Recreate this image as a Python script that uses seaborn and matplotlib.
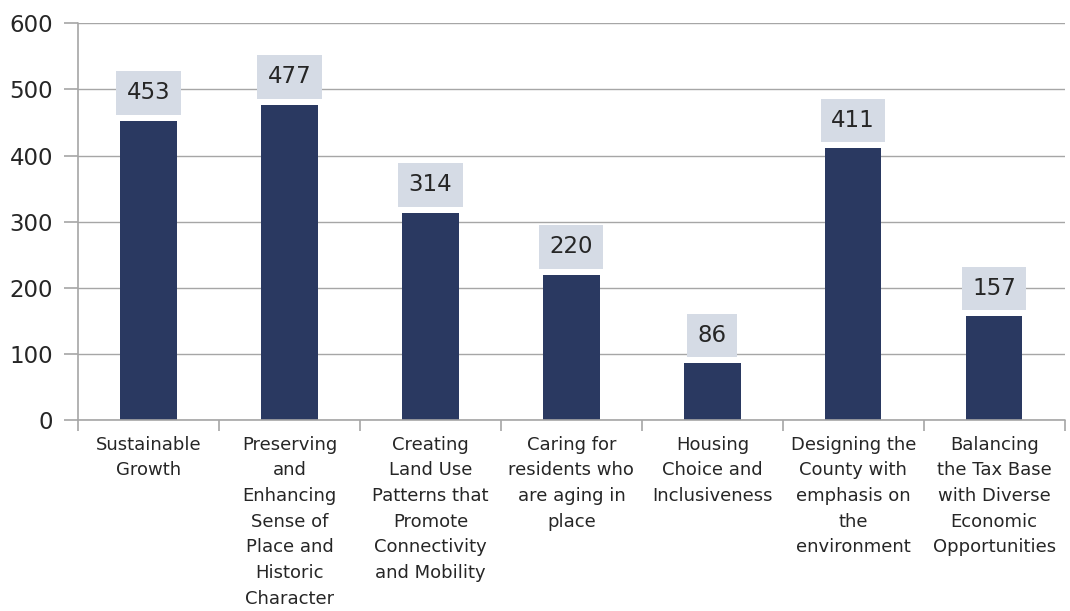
import matplotlib
matplotlib.use('Agg')
import matplotlib.pyplot as plt
import seaborn as sns
import pandas as pd

# Values
categories = [
    'Sustainable\nGrowth',
    'Preserving\nand\nEnhancing\nSense of\nPlace and\nHistoric\nCharacter',
    'Creating\nLand Use\nPatterns that\nPromote\nConnectivity\nand Mobility',
    'Caring for\nresidents who\nare aging in\nplace',
    'Housing\nChoice and\nInclusiveness',
    'Designing the\nCounty with\nemphasis on\nthe\nenvironment',
    'Balancing\nthe Tax Base\nwith Diverse\nEconomic\nOpportunities',
]
counts = [453, 477, 314, 220, 86, 411, 157]
y_ticks = [0, 100, 200, 300, 400, 500, 600]

df = pd.DataFrame({'category': categories, 'count': counts})

sns.set_style('white')
plt.rcParams['font.family'] = ['DejaVu Sans']

axis_grey = '#A6A6A6'
text_col = '#262626'

fig = plt.figure(figsize=(10.7, 6.11), dpi=100)
ax = fig.add_axes([0.073, 0.312, 0.922, 0.65])

sns.barplot(data=df, x='category', y='count', color='#2A3961', width=0.4,
            saturation=1, linewidth=0, ax=ax)

ax.set_ylim(0, 600)
ax.set_xlim(-0.5, len(categories) - 0.5)
ax.set_yticks(y_ticks)
ax.yaxis.grid(True, color=axis_grey, linewidth=1)
ax.xaxis.grid(False, which='both')
ax.set_axisbelow(True)
ax.set_xlabel('')
ax.set_ylabel('')

# no frame; left and bottom axis lines drawn on their own
ax.set_frame_on(False)
ax.axvline(-0.5, color=axis_grey, linewidth=1.2, zorder=0.5, clip_on=False)
ax.axhline(0, color=axis_grey, linewidth=1.2, zorder=3, clip_on=False)

# category labels centered, tick marks at category boundaries
ax.set_xticks(range(len(categories)))
ax.set_xticklabels(categories, fontsize=13, color=text_col, linespacing=1.55)
ax.tick_params(axis='x', length=0, pad=11)
ax.set_xticks([i - 0.5 for i in range(len(categories) + 1)], minor=True)
ax.tick_params(axis='x', which='minor', length=8, color=axis_grey, width=1.2,
               top=False, bottom=True)
ax.tick_params(axis='y', length=10, color=axis_grey, width=1.2, right=False,
               left=True, labelsize=16.5, labelcolor=text_col, pad=8)

for i, v in enumerate(counts):
    ax.annotate(str(v), (i, v), xytext=(0, 20), textcoords='offset points',
                ha='center', va='center', fontsize=16.5, color=text_col,
                bbox=dict(boxstyle='square,pad=0.45', facecolor='#D5DBE5',
                          edgecolor='none'))

fig.savefig('out.png', dpi=100, facecolor='white')
